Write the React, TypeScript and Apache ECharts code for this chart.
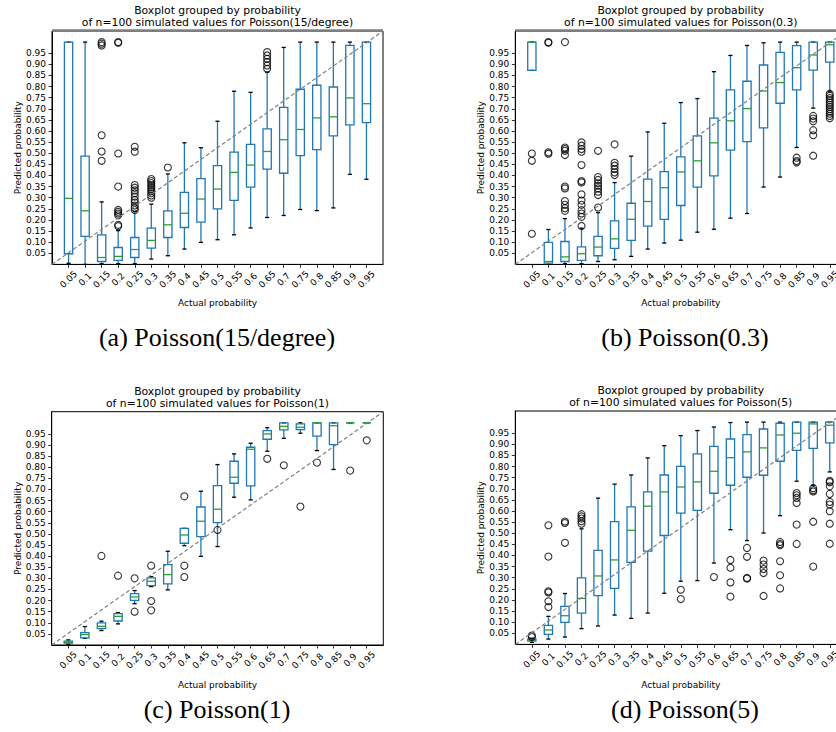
import React, { useEffect, useRef } from 'react';
import * as echarts from 'echarts';

// ---------- data ----------
const categories = ['0.05', '0.1', '0.15', '0.2', '0.25', '0.3', '0.35', '0.4', '0.45', '0.5',
  '0.55', '0.6', '0.65', '0.7', '0.75', '0.8', '0.85', '0.9', '0.95'];
const yTickLabels = ['0.05', '0.10', '0.15', '0.20', '0.25', '0.30', '0.35', '0.40', '0.45', '0.50',
  '0.55', '0.60', '0.65', '0.70', '0.75', '0.80', '0.85', '0.90', '0.95'];

// [lower whisker, Q1, median, Q3, upper whisker] per category
const poisson15Boxes = [
  [0.005, 0.048, 0.297, 1.0, 1.0],
  [0.0, 0.126, 0.241, 0.487, 1.0],
  [0.003, 0.013, 0.031, 0.133, 0.281],
  [0.003, 0.018, 0.036, 0.076, 0.152],
  [0.003, 0.031, 0.067, 0.121, 0.238],
  [0.024, 0.073, 0.108, 0.163, 0.271],
  [0.039, 0.121, 0.178, 0.241, 0.407],
  [0.069, 0.166, 0.23, 0.324, 0.547],
  [0.099, 0.19, 0.294, 0.386, 0.525],
  [0.111, 0.25, 0.339, 0.444, 0.644],
  [0.133, 0.288, 0.414, 0.505, 0.779],
  [0.164, 0.348, 0.447, 0.54, 0.774],
  [0.211, 0.429, 0.508, 0.61, 0.865],
  [0.22, 0.41, 0.561, 0.706, 0.976],
  [0.247, 0.489, 0.607, 0.788, 1.0],
  [0.242, 0.516, 0.659, 0.806, 1.0],
  [0.254, 0.578, 0.664, 0.798, 1.0],
  [0.405, 0.628, 0.749, 0.985, 1.0],
  [0.383, 0.638, 0.723, 1.0, 1.0],
];
const poisson15Outliers: [string, number][] = [
  ['0.15', 1.0], ['0.15', 0.993], ['0.15', 0.985], ['0.15', 0.581], ['0.15', 0.508], ['0.15', 0.466],
  ['0.2', 1.0], ['0.2', 0.997], ['0.2', 0.499], ['0.2', 0.35], ['0.2', 0.245], ['0.2', 0.237],
  ['0.2', 0.229], ['0.2', 0.221], ['0.2', 0.178], ['0.2', 0.172],
  ['0.25', 0.529], ['0.25', 0.507], ['0.25', 0.357], ['0.25', 0.345], ['0.25', 0.333], ['0.25', 0.32],
  ['0.25', 0.305], ['0.25', 0.29], ['0.25', 0.278], ['0.25', 0.265], ['0.25', 0.255], ['0.25', 0.245],
  ['0.3', 0.384], ['0.3', 0.375], ['0.3', 0.366], ['0.3', 0.357], ['0.3', 0.348], ['0.3', 0.339],
  ['0.3', 0.33], ['0.3', 0.32], ['0.3', 0.31], ['0.3', 0.3],
  ['0.35', 0.436],
  ['0.65', 0.955], ['0.65', 0.94], ['0.65', 0.925], ['0.65', 0.91], ['0.65', 0.895], ['0.65', 0.88],
];

const poisson03Boxes = [
  [0.873, 0.873, 1.0, 1.0, 1.0],
  [0.0, 0.006, 0.013, 0.099, 0.157],
  [0.003, 0.013, 0.034, 0.103, 0.206],
  [0.003, 0.018, 0.048, 0.079, 0.163],
  [0.013, 0.039, 0.078, 0.126, 0.233],
  [0.021, 0.072, 0.115, 0.196, 0.368],
  [0.036, 0.108, 0.203, 0.275, 0.487],
  [0.069, 0.172, 0.283, 0.384, 0.596],
  [0.096, 0.203, 0.345, 0.417, 0.635],
  [0.109, 0.265, 0.416, 0.484, 0.728],
  [0.145, 0.348, 0.466, 0.578, 0.746],
  [0.158, 0.398, 0.547, 0.658, 0.867],
  [0.208, 0.514, 0.646, 0.785, 0.94],
  [0.229, 0.552, 0.701, 0.824, 0.985],
  [0.348, 0.614, 0.78, 0.897, 0.997],
  [0.393, 0.725, 0.818, 0.954, 1.0],
  [0.526, 0.785, 0.885, 0.984, 1.0],
  [0.703, 0.874, 0.942, 1.0, 1.0],
  [0.776, 0.91, 0.988, 1.0, 1.0],
];
const poisson03Outliers: [string, number][] = [
  ['0.05', 0.499], ['0.05', 0.466], ['0.05', 0.138],
  ['0.1', 1.0], ['0.1', 0.997], ['0.1', 0.504], ['0.1', 0.498],
  ['0.15', 1.0], ['0.15', 0.526], ['0.15', 0.519], ['0.15', 0.511], ['0.15', 0.492], ['0.15', 0.35],
  ['0.15', 0.342], ['0.15', 0.285], ['0.15', 0.268], ['0.15', 0.253], ['0.15', 0.241],
  ['0.2', 0.549], ['0.2', 0.534], ['0.2', 0.519], ['0.2', 0.507], ['0.2', 0.447], ['0.2', 0.375],
  ['0.2', 0.369], ['0.2', 0.315], ['0.2', 0.287], ['0.2', 0.268], ['0.2', 0.244], ['0.2', 0.229],
  ['0.2', 0.214], ['0.2', 0.173],
  ['0.25', 0.511], ['0.25', 0.393], ['0.25', 0.38], ['0.25', 0.365], ['0.25', 0.354], ['0.25', 0.342],
  ['0.25', 0.327], ['0.25', 0.312], ['0.25', 0.256],
  ['0.3', 0.54], ['0.3', 0.457], ['0.3', 0.444], ['0.3', 0.429], ['0.3', 0.414], ['0.3', 0.402],
  ['0.85', 0.48], ['0.85', 0.465], ['0.85', 0.459],
  ['0.9', 0.668], ['0.9', 0.656], ['0.9', 0.644], ['0.9', 0.604], ['0.9', 0.581], ['0.9', 0.489],
  ['0.95', 0.768], ['0.95', 0.758], ['0.95', 0.748], ['0.95', 0.738], ['0.95', 0.728], ['0.95', 0.718],
  ['0.95', 0.708], ['0.95', 0.698], ['0.95', 0.688], ['0.95', 0.678], ['0.95', 0.668], ['0.95', 0.658],
];

const poisson1Boxes = [
  [0.003, 0.008, 0.012, 0.017, 0.023],
  [0.03, 0.032, 0.047, 0.056, 0.083],
  [0.065, 0.074, 0.084, 0.1, 0.107],
  [0.095, 0.108, 0.129, 0.141, 0.146],
  [0.186, 0.201, 0.216, 0.231, 0.245],
  [0.263, 0.267, 0.287, 0.302, 0.308],
  [0.248, 0.275, 0.317, 0.362, 0.422],
  [0.447, 0.458, 0.495, 0.525, 0.525],
  [0.399, 0.488, 0.557, 0.621, 0.692],
  [0.443, 0.551, 0.611, 0.717, 0.812],
  [0.665, 0.728, 0.755, 0.827, 0.86],
  [0.653, 0.716, 0.881, 0.89, 0.908],
  [0.872, 0.926, 0.95, 0.965, 0.978],
  [0.93, 0.968, 0.984, 1.0, 1.0],
  [0.953, 0.969, 0.98, 0.995, 1.0],
  [0.875, 0.94, 1.0, 1.0, 1.0],
  [0.79, 0.902, 0.987, 1.0, 1.0],
  [1.0, 1.0, 1.0, 1.0, 1.0],
  [1.0, 1.0, 1.0, 1.0, 1.0],
];
const poisson1Outliers: [string, number][] = [
  ['0.15', 0.401], ['0.2', 0.312], ['0.25', 0.3], ['0.25', 0.15],
  ['0.3', 0.357], ['0.3', 0.198], ['0.3', 0.156],
  ['0.4', 0.669], ['0.4', 0.357], ['0.4', 0.306],
  ['0.5', 0.518], ['0.65', 0.838], ['0.7', 0.809], ['0.75', 0.623],
  ['0.8', 0.821], ['0.9', 0.785], ['0.95', 0.921],
];

const poisson5Boxes = [
  [0.009, 0.015, 0.02, 0.024, 0.028],
  [0.024, 0.045, 0.065, 0.086, 0.126],
  [0.033, 0.099, 0.129, 0.171, 0.229],
  [0.071, 0.141, 0.207, 0.299, 0.52],
  [0.083, 0.219, 0.308, 0.423, 0.658],
  [0.132, 0.252, 0.38, 0.552, 0.721],
  [0.117, 0.369, 0.513, 0.619, 0.762],
  [0.141, 0.42, 0.622, 0.686, 0.839],
  [0.23, 0.49, 0.686, 0.762, 0.894],
  [0.284, 0.591, 0.708, 0.801, 0.939],
  [0.287, 0.603, 0.731, 0.857, 0.962],
  [0.366, 0.68, 0.779, 0.891, 0.978],
  [0.516, 0.716, 0.84, 0.924, 0.998],
  [0.467, 0.752, 0.866, 0.944, 1.0],
  [0.501, 0.761, 0.884, 0.969, 1.0],
  [0.579, 0.824, 0.942, 0.995, 1.0],
  [0.734, 0.873, 0.95, 1.0, 1.0],
  [0.716, 0.882, 0.992, 1.0, 1.0],
  [0.776, 0.907, 0.986, 1.0, 1.0],
];
const poisson5Outliers: [string, number][] = [
  ['0.05', 0.04], ['0.05', 0.033],
  ['0.1', 0.536], ['0.1', 0.395], ['0.1', 0.239], ['0.1', 0.234], ['0.1', 0.194], ['0.1', 0.168],
  ['0.15', 0.553], ['0.15', 0.546], ['0.15', 0.457],
  ['0.2', 0.586], ['0.2', 0.576], ['0.2', 0.566], ['0.2', 0.554], ['0.2', 0.543],
  ['0.5', 0.246], ['0.5', 0.204],
  ['0.6', 0.303],
  ['0.65', 0.38], ['0.65', 0.345], ['0.65', 0.279], ['0.65', 0.215],
  ['0.7', 0.434], ['0.7', 0.394], ['0.7', 0.299], ['0.7', 0.296],
  ['0.75', 0.377], ['0.75', 0.359], ['0.75', 0.339], ['0.75', 0.321], ['0.75', 0.218],
  ['0.8', 0.461], ['0.8', 0.452], ['0.8', 0.446], ['0.8', 0.374], ['0.8', 0.311], ['0.8', 0.252],
  ['0.85', 0.681], ['0.85', 0.671], ['0.85', 0.659], ['0.85', 0.636], ['0.85', 0.539], ['0.85', 0.452],
  ['0.9', 0.703], ['0.9', 0.694], ['0.9', 0.688], ['0.9', 0.552], ['0.9', 0.35],
  ['0.95', 0.736], ['0.95', 0.73], ['0.95', 0.711], ['0.95', 0.677], ['0.95', 0.641], ['0.95', 0.629],
  ['0.95', 0.599], ['0.95', 0.543], ['0.95', 0.453],
];

const titleLine1 = 'Boxplot grouped by probability';
const xAxisTitle = 'Actual probability';
const yAxisTitle = 'Predicted probability';

// ---------- layout / style ----------
const X_MIN = 0, X_MAX = 20, Y_MIN = 0, Y_MAX = 1.05;
const BLUE = '#1f77b4';
const GREEN = '#2ca02c';
const FONT = 'DejaVu Sans';

const panels = [
  { boxes: poisson15Boxes, outliers: poisson15Outliers, name: 'Poisson(15/degree)', caption: '(a) Poisson(15/degree)',
    grid: { left: 52, top: 31, width: 331, height: 233.4 }, grayTop: true, xTitleY: 303, captionY: 337, captionX: 217 },
  { boxes: poisson03Boxes, outliers: poisson03Outliers, name: 'Poisson(0.3)', caption: '(b) Poisson(0.3)',
    grid: { left: 515.3, top: 31, width: 331, height: 233.4 }, grayTop: true, xTitleY: 303, captionY: 337, captionX: 685 },
  { boxes: poisson1Boxes, outliers: poisson1Outliers, name: 'Poisson(1)', caption: '(c) Poisson(1)',
    grid: { left: 51.7, top: 411.7, width: 331.6, height: 233.3 }, grayTop: false, xTitleY: 685, captionY: 709, captionX: 217 },
  { boxes: poisson5Boxes, outliers: poisson5Outliers, name: 'Poisson(5)', caption: '(d) Poisson(5)',
    grid: { left: 515.3, top: 411, width: 331, height: 233.4 }, grayTop: false, xTitleY: 685, captionY: 709, captionX: 685 },
];

const xPositions = categories.map((_, i) => i + 1);
const yTicks = yTickLabels.map(Number);

const renderBox = (_params: any, api: any) => {
  const x = api.value(0);
  const low = api.coord([x, api.value(1)]);
  const q1 = api.coord([x, api.value(2)]);
  const med = api.coord([x, api.value(3)]);
  const q3 = api.coord([x, api.value(4)]);
  const high = api.coord([x, api.value(5)]);
  const unit = api.size([1, 0])[0];
  const hw = unit * 0.25;
  const cw = unit * 0.125;
  const cx = low[0];
  const lw = 1.3;
  return {
    type: 'group',
    children: [
      { type: 'line', shape: { x1: cx, y1: q1[1], x2: cx, y2: low[1] }, style: { stroke: BLUE, lineWidth: lw } },
      { type: 'line', shape: { x1: cx, y1: q3[1], x2: cx, y2: high[1] }, style: { stroke: BLUE, lineWidth: lw } },
      { type: 'line', shape: { x1: cx - cw, y1: low[1], x2: cx + cw, y2: low[1] }, style: { stroke: '#000', lineWidth: lw } },
      { type: 'line', shape: { x1: cx - cw, y1: high[1], x2: cx + cw, y2: high[1] }, style: { stroke: '#000', lineWidth: lw } },
      { type: 'rect', shape: { x: cx - hw, y: q3[1], width: 2 * hw, height: q1[1] - q3[1] },
        style: { stroke: BLUE, fill: 'none', lineWidth: lw } },
      { type: 'line', shape: { x1: cx - hw, y1: med[1], x2: cx + hw, y2: med[1] }, style: { stroke: GREEN, lineWidth: lw } },
    ],
  };
};

function buildOption() {
  const grid: any[] = [];
  const xAxis: any[] = [];
  const yAxis: any[] = [];
  const series: any[] = [];
  const graphic: any[] = [];

  panels.forEach((p, i) => {
    const g = p.grid;
    grid.push({ ...g, show: true, borderColor: '#000', borderWidth: 1, backgroundColor: 'transparent' });
    xAxis.push({
      gridIndex: i, type: 'value', min: X_MIN, max: X_MAX,
      axisLine: { show: true, onZero: false, lineStyle: { color: '#000', width: 1 } },
      axisTick: { show: true, length: 3.5, customValues: xPositions, lineStyle: { color: '#000', width: 0.8 } },
      axisLabel: {
        customValues: xPositions,
        formatter: (v: number) => categories[Math.round(v) - 1] ?? '',
        rotate: 45, align: 'center', verticalAlign: 'middle', margin: 15,
        fontSize: 9, fontFamily: FONT, color: '#000',
      },
      splitLine: { show: false },
    });
    yAxis.push({
      gridIndex: i, type: 'value', min: Y_MIN, max: Y_MAX,
      axisLine: { show: true, onZero: false, lineStyle: { color: '#000', width: 1 } },
      axisTick: { show: true, length: 3.5, customValues: yTicks, lineStyle: { color: '#000', width: 0.8 } },
      axisLabel: {
        customValues: yTicks,
        formatter: (v: number) => v.toFixed(2),
        margin: 6, fontSize: 9, fontFamily: FONT, color: '#000',
      },
      splitLine: { show: false },
    });
    series.push({
      type: 'custom', xAxisIndex: i, yAxisIndex: i, renderItem: renderBox, silent: true,
      data: p.boxes.map((b, j) => [j + 1, ...b]),
      encode: { x: 0, y: [1, 2, 3, 4, 5] }, z: 2,
    });
    series.push({
      type: 'scatter', xAxisIndex: i, yAxisIndex: i, silent: true,
      data: p.outliers.map(([c, v]) => [categories.indexOf(c) + 1, v]),
      symbol: 'circle', symbolSize: 7,
      itemStyle: { color: 'rgba(0,0,0,0)', borderColor: '#000', borderWidth: 1.1 }, z: 3,
    });
    series.push({
      type: 'line', xAxisIndex: i, yAxisIndex: i, silent: true,
      data: [[X_MIN, Y_MIN], [X_MAX, Y_MAX]], symbol: 'none',
      lineStyle: { color: '#808080', type: [4, 2.5], width: 1.2 }, z: 4,
    });

    const cx = g.left + g.width / 2;
    const cy = g.top + g.height / 2;
    graphic.push({ type: 'text', x: cx, y: g.top - 20.5, silent: true,
      style: { text: titleLine1, font: `10.8px "${FONT}"`, fill: '#000', textAlign: 'center', textVerticalAlign: 'middle' } });
    graphic.push({ type: 'text', x: cx, y: g.top - 8.6, silent: true,
      style: { text: `of n=100 simulated values for ${p.name}`, font: `10.8px "${FONT}"`, fill: '#000', textAlign: 'center', textVerticalAlign: 'middle' } });
    graphic.push({ type: 'text', x: cx, y: p.xTitleY, silent: true,
      style: { text: xAxisTitle, font: `9px "${FONT}"`, fill: '#000', textAlign: 'center', textVerticalAlign: 'middle' } });
    graphic.push({ type: 'text', x: g.left - 34, y: cy, rotation: Math.PI / 2, silent: true,
      style: { text: yAxisTitle, font: `9px "${FONT}"`, fill: '#000', textAlign: 'center', textVerticalAlign: 'middle' } });
    graphic.push({ type: 'text', x: p.captionX, y: p.captionY, silent: true,
      style: { text: p.caption, font: `26px "Liberation Serif"`, fill: '#000', textAlign: 'center', textVerticalAlign: 'middle' } });
    if (p.grayTop) {
      graphic.push({ type: 'line', silent: true, z: 100,
        shape: { x1: g.left, y1: g.top - 0.6, x2: g.left + g.width, y2: g.top - 0.6 },
        style: { stroke: '#808080', lineWidth: 2.4 } });
    }
  });

  return { animation: false, backgroundColor: '#fff', grid, xAxis, yAxis, series, graphic };
}

export default function App() {
  const ref = useRef<HTMLDivElement>(null);
  useEffect(() => {
    if (!ref.current) return;
    const chart = echarts.init(ref.current, null, { renderer: 'svg' });
    chart.setOption(buildOption() as any);
    return () => chart.dispose();
  }, []);
  return (
    <div style={{ position: 'absolute', left: 0, top: 0, width: 836, height: 732, overflow: 'hidden', background: '#fff' }}>
      <div ref={ref} style={{ position: 'absolute', left: 0, top: 0, width: 870, height: 732 }} />
    </div>
  );
}
